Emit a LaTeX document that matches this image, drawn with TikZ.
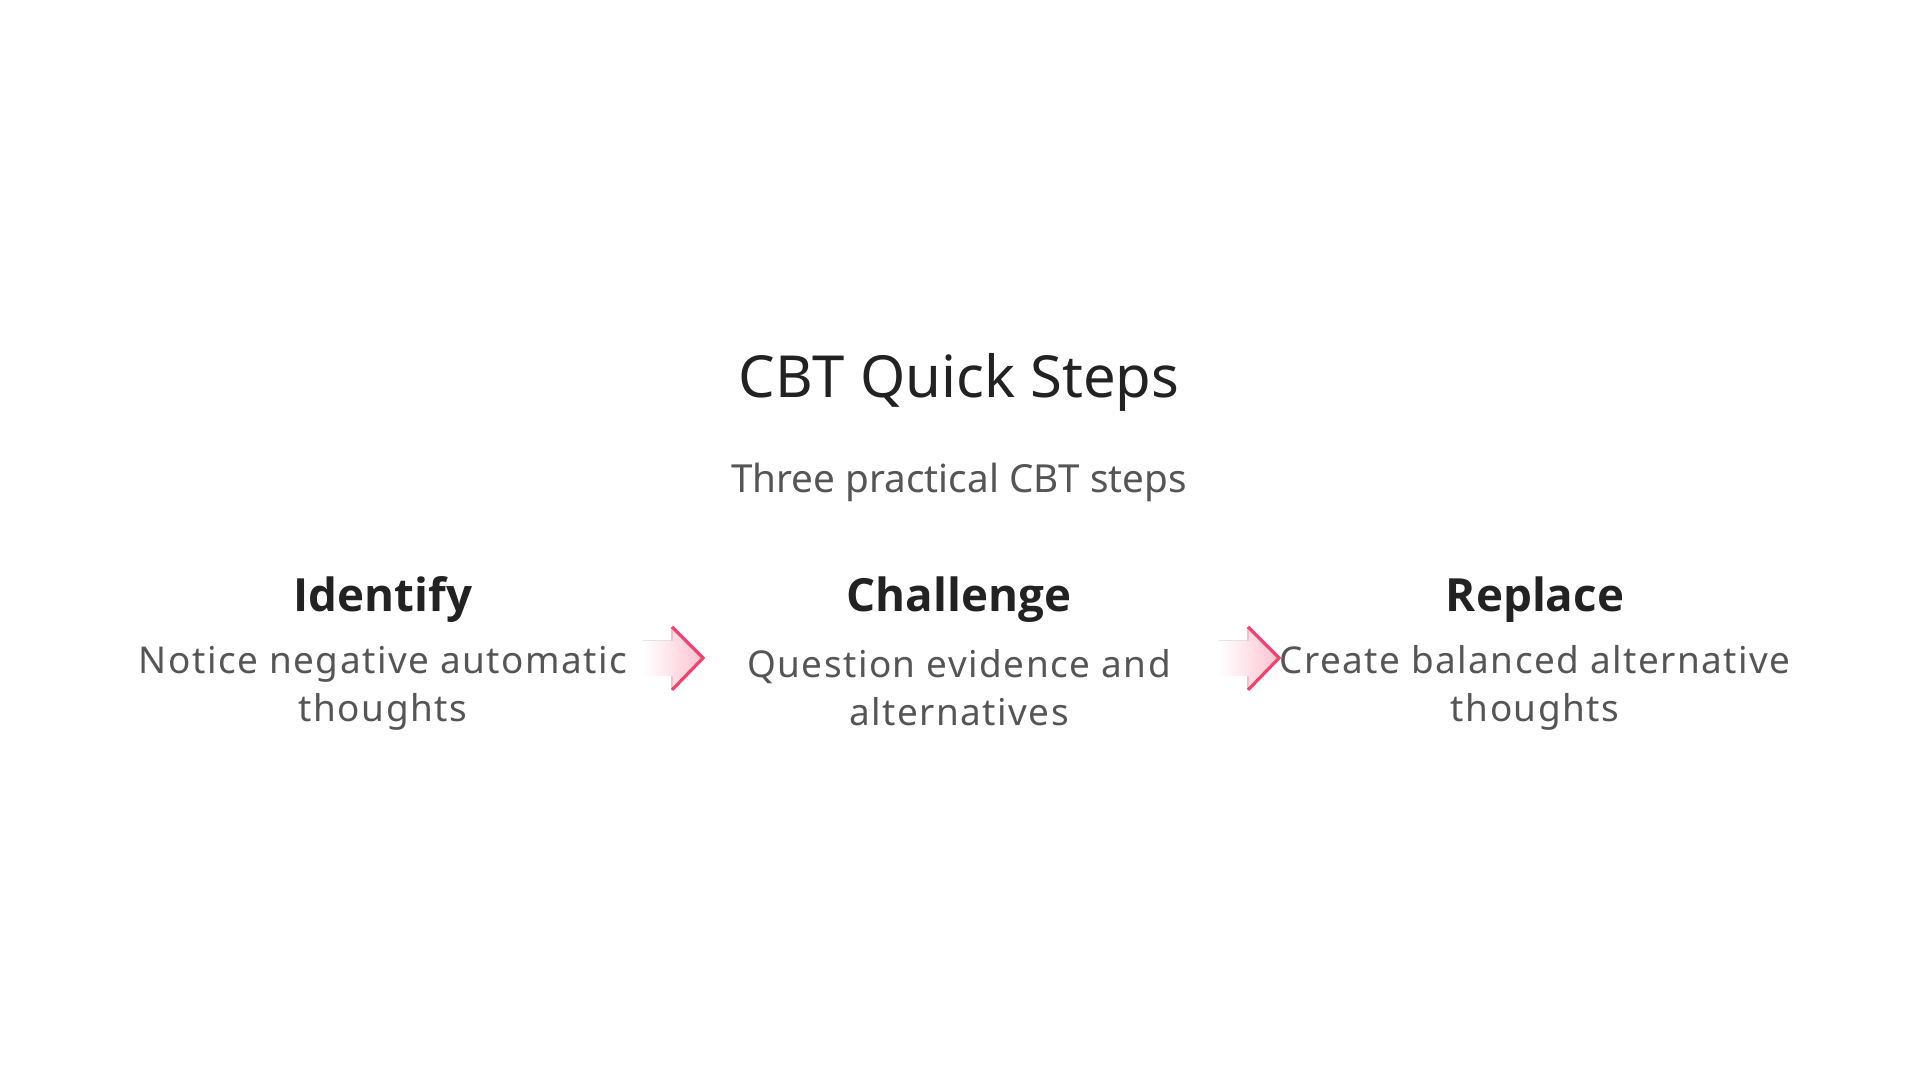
\documentclass[tikz,border=0pt]{standalone}
\usepackage{fontspec}
\setmainfont{Noto Sans}
\newfontfamily\hfont{Open Sans}
\definecolor{tc}{HTML}{222222}
\definecolor{sc}{HTML}{555555}
\definecolor{ar}{HTML}{F2426C}
\definecolor{arf}{HTML}{FFC2D0}
\begin{document}
\begin{tikzpicture}[x=0.01cm,y=-0.01cm,
  head/.style={font=\hfont\fontsize{13}{16}\selectfont\bfseries, text=tc},
  desc/.style={font=\addfontfeatures{LetterSpace=4}\fontsize{10.5}{13.7}\selectfont, text=sc, align=center}]
\useasboundingbox (0,0) rectangle (1920,1080);
\node[font=\fontsize{16.5}{20}\selectfont, text=tc] (title) at (959,382) {CBT Quick Steps};
\node[font=\fontsize{11}{14}\selectfont, text=sc] (sub) at (959,482) {Three practical CBT steps};
\node[head] (h1) at (383,600) {Identify};
\node[head] (h2) at (959,600) {Challenge};
\node[head] (h3) at (1535,600) {Replace};
\node[desc] (d1) at (383,688) {Notice negative automatic\\thoughts};
\node[desc] (d2) at (959,688) {Question evidence and\\alternatives};
\node[desc] (d3) at (1535,688) {Create balanced alternative\\thoughts};
\foreach \x in {643,1219}{
  \fill[left color=white, right color=arf] (\x,641) -- (\x+29,641) -- (\x+29,627) -- (\x+60,658) -- (\x+29,690) -- (\x+29,676) -- (\x,676) -- cycle;
  \draw[ar!35, line width=0.8pt] (\x+29,641) -- (\x+29,627);
  \draw[ar!35, line width=0.8pt] (\x+29,676) -- (\x+29,690);
  \draw[ar, line width=0.9pt] (\x+29,627) -- (\x+60,658) -- (\x+29,690);
}
\end{tikzpicture}
\end{document}
